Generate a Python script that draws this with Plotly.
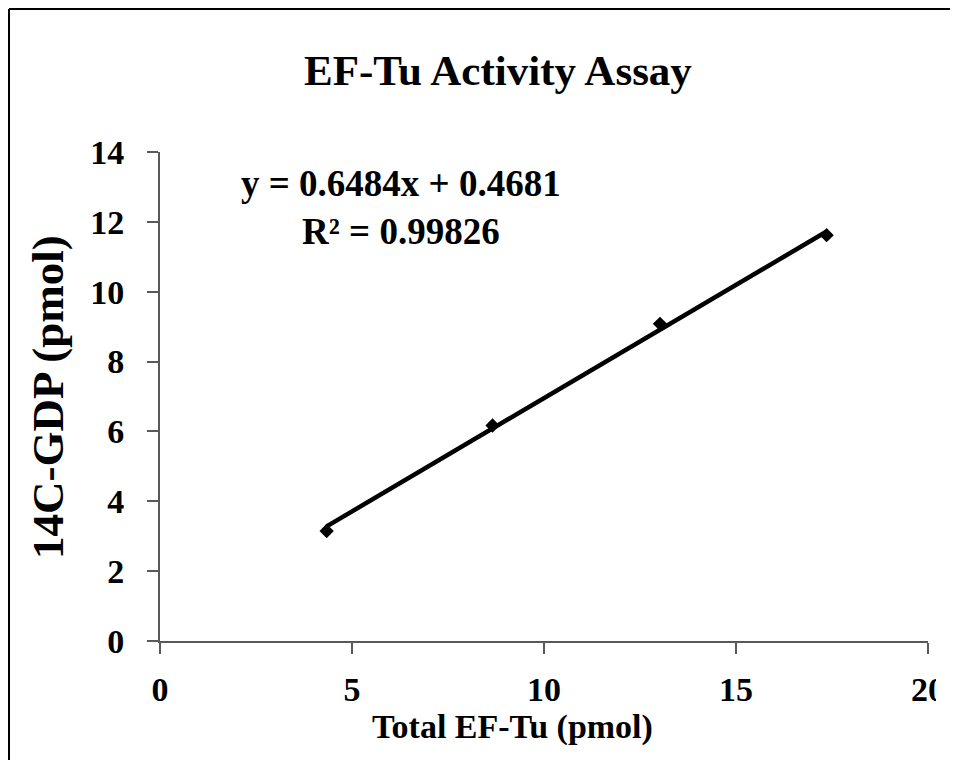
import plotly.graph_objects as go

ef_tu = [4.34, 8.66, 13.02, 17.36]
gdp = [3.15, 6.17, 9.08, 11.62]
slope = 0.6484
intercept = 0.4681
x_ticks = [0, 5, 10, 15, 20]
y_ticks = [0, 2, 4, 6, 8, 10, 12, 14]

FONT = "Liberation Serif"

fit_x = [min(ef_tu), max(ef_tu)]
fit_y = [slope * v + intercept for v in fit_x]

fig = go.Figure()
fig.add_trace(go.Scatter(x=ef_tu, y=gdp, mode="markers",
                         marker=dict(symbol="diamond", size=11, color="black"),
                         showlegend=False))
fig.add_trace(go.Scatter(x=fit_x, y=fit_y, mode="lines",
                         line=dict(color="black", width=4.5), showlegend=False))

axis_common = dict(showgrid=False, zeroline=False, showline=True, linecolor="#595959",
                   linewidth=2, ticks="outside", ticklen=11, tickwidth=2, tickcolor="#595959",
                   tickfont=dict(family=FONT, size=34, color="black", weight="bold"))

fig.update_layout(
    width=950, height=752,
    margin=dict(l=152, r=30, t=144, b=119),
    paper_bgcolor="white", plot_bgcolor="white",
    xaxis=dict(range=[0, 20], tickvals=x_ticks, ticklabelstandoff=6, **axis_common),
    yaxis=dict(range=[0, 14], tickvals=y_ticks, ticklabelstandoff=16, **axis_common),
    font=dict(family=FONT, color="black"),
)

# positions below are in screen px of the reference, mapped to paper coords
def px(X):
    return (X - 160) / 768

def py(Y):
    return (641 - Y) / 489

ann = dict(xref="paper", yref="paper", showarrow=False, xanchor="center", yanchor="middle")

fig.add_annotation(text="<b>EF-Tu Activity Assay</b>", x=px(498), y=py(70),
                   font=dict(family=FONT, size=43, color="black"), **ann)
fig.add_annotation(text="<b>Total EF-Tu (pmol)</b>", x=px(512), y=py(727),
                   font=dict(family=FONT, size=34, color="black"), **ann)
fig.add_annotation(text="<b>14C-GDP (pmol)</b>", x=px(48), y=py(397), textangle=-90,
                   font=dict(family=FONT, size=45, color="black"), **ann)
fig.add_annotation(text="<b>y = 0.6484x + 0.4681</b><br><b>R² = 0.99826</b>",
                   x=px(401), y=py(207), align="center",
                   font=dict(family=FONT, size=37, color="black"), **ann)

# outer frame: only its left and top edges are visible in the picture
fig.add_shape(type="line", xref="paper", yref="paper",
              x0=px(9), x1=px(9), y0=py(800), y1=py(9),
              line=dict(color="black", width=2), layer="below")
fig.add_shape(type="line", xref="paper", yref="paper",
              x0=px(9), x1=px(958), y0=py(9), y1=py(9),
              line=dict(color="black", width=2), layer="below")
# white strip over the right edge, below the top frame line
fig.add_shape(type="rect", xref="paper", yref="paper",
              x0=px(936), x1=px(1000), y0=py(800), y1=py(11),
              line=dict(width=0), fillcolor="white", layer="above")

fig.write_html("out.html")
